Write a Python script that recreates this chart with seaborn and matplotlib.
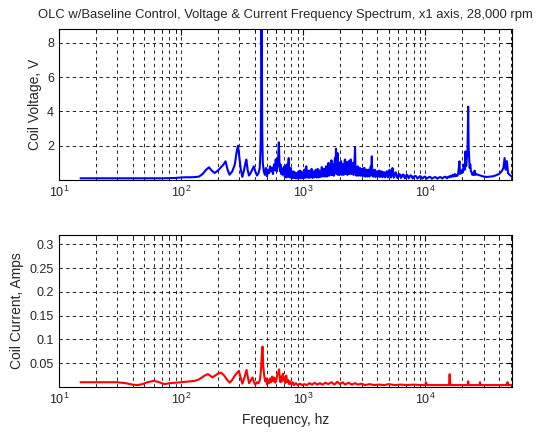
import matplotlib
matplotlib.use("Agg")
import matplotlib.pyplot as plt
import seaborn as sns
import pandas as pd
from matplotlib.ticker import LogLocator, FixedLocator

# coil voltage spectrum (three frequency ranges)
freq_v_low = [15, 20, 30, 40, 50, 60, 70, 80, 90, 100, 110, 120, 130, 140, 150, 160, 169, 178, 188,
              200, 212, 222, 231, 240, 249, 262, 275, 284, 292, 300, 308, 317, 328, 336, 342, 350,
              359, 370, 382, 393, 405, 418, 430, 440, 448, 452, 455, 458, 461, 466, 475, 485, 495,
              505, 515, 525, 535, 545, 555, 565, 575, 585, 595, 605, 615, 625, 631, 638, 645, 652,
              660, 668, 676, 684, 692]
volt_low = [0.10, 0.10, 0.10, 0.10, 0.10, 0.10, 0.10, 0.11, 0.12, 0.15, 0.16, 0.16, 0.17, 0.20, 0.35,
            0.60, 0.74, 0.55, 0.41, 0.55, 0.75, 0.90, 1.09, 0.60, 0.31, 0.50, 0.90, 1.60, 2.00, 1.30,
            0.60, 0.18, 0.60, 1.00, 1.19, 0.60, 0.26, 0.40, 0.60, 0.80, 0.50, 0.26, 0.40, 0.70, 2.00,
            4.70, 9.50, 6.80, 2.90, 1.00, 0.50, 0.30, 0.70, 0.22, 0.60, 0.40, 0.80, 0.50, 0.70, 0.35,
            0.90, 0.60, 1.20, 0.50, 0.80, 1.50, 2.20, 1.00, 0.50, 0.90, 0.35, 0.60, 0.30, 0.70, 0.45]

freq_v_mid = [700, 705, 710, 715, 720, 725, 730, 735, 740, 745,
              750, 755, 760, 765, 770, 775, 780, 785, 790, 795,
              800, 808, 815, 822, 830, 838, 845, 852, 860, 868,
              875, 882, 890, 898, 905, 912, 920, 928, 935, 942,
              950, 958, 965, 972, 980, 990, 1000, 1010, 1020, 1030,
              1040, 1050, 1060, 1070, 1080, 1090, 1100, 1110, 1120, 1130,
              1140, 1150, 1160, 1170, 1180, 1190, 1200, 1212, 1225, 1237,
              1250, 1262, 1275, 1287, 1300, 1312, 1325, 1337, 1350, 1362,
              1375, 1387, 1400, 1415, 1430, 1445, 1460, 1475, 1490, 1505,
              1520, 1535, 1550, 1565, 1580, 1595, 1610, 1625, 1640, 1655,
              1670, 1685, 1700, 1715, 1730, 1745, 1760, 1775, 1790, 1805,
              1820, 1836, 1853, 1866, 1880, 1895, 1910, 1925, 1940, 1955,
              1970, 1985, 2000, 2020, 2040, 2060, 2080, 2100, 2120, 2140,
              2160, 2180, 2200, 2220, 2240, 2260, 2280, 2300, 2320, 2340,
              2360, 2380, 2400, 2425, 2450, 2475, 2500, 2525, 2550, 2575,
              2600, 2630, 2655, 2680, 2700, 2725, 2750, 2775, 2800, 2830,
              2860, 2890, 2920, 2950, 2980, 3010, 3040, 3070, 3100, 3135,
              3170, 3205, 3240, 3275, 3310, 3345, 3380, 3415, 3450, 3485,
              3520, 3550, 3580, 3610, 3640, 3670, 3700, 3740, 3780, 3820,
              3860, 3900, 3940, 3980, 4020, 4060, 4100, 4150, 4200, 4250,
              4300, 4350, 4400, 4450, 4500, 4560, 4620, 4690, 4750, 4810,
              4880, 4940, 5000, 5080, 5150, 5220, 5300, 5370, 5450, 5520,
              5600, 5700, 5800, 5900, 6000, 6100, 6200, 6300, 6400, 6520,
              6650, 6780, 6900, 7020, 7150, 7280, 7400, 7550, 7700, 7850,
              8000, 8200, 8400, 8600, 8800, 9000, 9200, 9400, 9600, 9800,
              10000, 10250, 10500, 10750, 11000, 11300, 11600, 11900, 12200, 12500,
              12800, 13100, 13400, 13700, 14000, 14350, 14700, 15000, 15400, 15700]
volt_mid = [0.8, 0.2, 0.3, 0.7, 0.6, 0.15, 0.9, 0.3, 0.4, 0.2,
            0.55, 0.8, 1.28, 0.2, 0.5, 0.15, 0.3, 0.6, 0.7, 0.15,
            0.4, 0.1, 0.25, 0.5, 0.5, 0.12, 0.15, 0.45, 0.4, 0.1,
            0.2, 0.4, 0.35, 0.1, 0.15, 0.5, 0.45, 0.12, 0.25, 0.55,
            0.5, 0.1, 0.2, 0.45, 0.4, 0.12, 0.3, 0.55, 0.6, 0.12,
            0.25, 0.7, 0.8, 0.15, 0.35, 0.55, 0.5, 0.12, 0.2, 0.5,
            0.55, 0.15, 0.3, 0.65, 0.6, 0.12, 0.25, 0.5, 0.45, 0.15,
            0.3, 0.6, 0.55, 0.15, 0.35, 0.65, 0.6, 0.15, 0.3, 0.55,
            0.5, 0.18, 0.35, 0.75, 0.7, 0.2, 0.4, 0.65, 0.6, 0.2,
            0.3, 0.8, 0.75, 0.2, 0.45, 0.95, 1.0, 0.25, 0.5, 0.9,
            0.8, 0.3, 1.15, 0.3, 0.45, 0.85, 0.9, 0.25, 0.5, 1.1,
            1.3, 0.4, 1.83, 0.35, 0.6, 1.2, 1.57, 0.3, 0.5, 0.95,
            1.0, 0.3, 0.6, 1.05, 1.1, 0.3, 0.55, 0.95, 0.9, 0.3,
            0.5, 1.15, 1.2, 0.35, 0.6, 1.05, 1.0, 0.3, 0.55, 1.0,
            1.1, 0.35, 0.7, 1.15, 1.2, 0.35, 0.6, 0.95, 1.0, 0.3,
            0.8, 1.2, 1.9, 0.3, 0.7, 0.25, 0.45, 0.75, 0.8, 0.25,
            0.5, 0.7, 0.7, 0.25, 0.4, 0.6, 0.65, 0.22, 0.45, 0.7,
            0.7, 0.2, 0.4, 0.6, 0.6, 0.2, 0.35, 0.6, 0.6, 0.2,
            0.4, 0.75, 0.8, 0.3, 1.38, 0.25, 0.6, 0.2, 0.35, 0.55,
            0.6, 0.18, 0.3, 0.5, 0.5, 0.18, 0.3, 0.5, 0.55, 0.17,
            0.3, 0.5, 0.5, 0.16, 0.28, 0.45, 0.45, 0.15, 0.3, 0.5,
            0.5, 0.15, 0.25, 0.6, 0.42, 0.15, 0.25, 0.7, 0.4, 0.14,
            0.22, 0.45, 0.35, 0.12, 0.2, 0.35, 0.32, 0.12, 0.18, 0.32,
            0.3, 0.1, 0.17, 0.3, 0.28, 0.1, 0.16, 0.27, 0.25, 0.09,
            0.15, 0.24, 0.22, 0.09, 0.14, 0.22, 0.2, 0.08, 0.13, 0.2,
            0.18, 0.08, 0.13, 0.18, 0.17, 0.08, 0.12, 0.17, 0.16, 0.08,
            0.12, 0.17, 0.16, 0.09, 0.14, 0.19, 0.18, 0.1, 0.2, 0.15]

freq_v_high = [16000, 16350, 16700, 17050, 17400, 17700, 18000, 18300, 18600, 19000,
               19200, 19400, 19700, 20000, 20300, 20600, 20950, 21300, 21550, 21800,
               22100, 22400, 22600, 22800, 23050, 23300, 23600, 23900, 24250, 24600,
               24950, 25300, 25650, 26000, 27000, 28500, 30000, 32000, 34000, 36000,
               38000, 40000, 42000, 43500, 44500, 45500, 46500, 47500, 49000, 51000]
volt_high = [0.25, 0.18, 0.3, 0.2, 0.35, 0.22, 0.3, 0.25, 0.45, 1.09,
             0.35, 0.5, 0.4, 0.6, 0.45, 0.9, 0.6, 1.67, 0.8, 1.2,
             1.6, 4.28, 1.9, 1.3, 0.7, 0.9, 0.5, 0.45, 0.3, 0.4,
             0.3, 0.55, 0.3, 0.35, 0.3, 0.25, 0.2, 0.18, 0.2, 0.22,
             0.28, 0.35, 0.5, 0.7, 1.28, 0.6, 1.1, 0.4, 0.3, 0.2]

# coil current spectrum
freq_i = [15, 20, 25, 30, 35, 40, 44, 48, 53, 60, 66, 73, 80, 90, 100, 110, 120, 130, 140, 150,
          158, 166, 173, 180, 190, 200, 213, 225, 238, 250, 262, 275, 287, 297, 305, 317, 330,
          343, 352, 360, 372, 384, 395, 405, 418, 430, 442, 452, 458, 464, 470, 478, 487, 496,
          505, 515, 525, 535, 545, 555, 565, 578, 590, 603, 615, 625, 634, 642, 650, 660, 670,
          680, 690, 700, 712, 725, 738, 750, 765, 780, 800, 820, 840, 870, 900, 940, 980, 1020,
          1070, 1120, 1180, 1240, 1300, 1370, 1440, 1520, 1600, 1700, 1800, 1900, 2000, 2100,
          2200, 2350, 2500, 2650, 2800, 3000, 3200, 3500, 3800, 4200, 4600, 5000, 5600, 6300,
          7000, 8000, 9000, 10000, 10100, 10300, 12000, 14000, 15600, 15800, 16000, 19000,
          22200, 22400, 22600, 26000, 27800, 28000, 28200, 35000, 42000, 46800, 47000, 47200,
          51000]
amps = [0.010, 0.010, 0.010, 0.010, 0.008, 0.005, 0.004, 0.006, 0.010, 0.013, 0.010, 0.006,
        0.008, 0.009, 0.010, 0.011, 0.012, 0.013, 0.016, 0.021, 0.025, 0.027, 0.024, 0.020,
        0.024, 0.028, 0.030, 0.024, 0.015, 0.009, 0.015, 0.024, 0.030, 0.034, 0.022, 0.007,
        0.020, 0.036, 0.020, 0.008, 0.014, 0.020, 0.010, 0.005, 0.010, 0.008, 0.015, 0.040,
        0.070, 0.085, 0.045, 0.025, 0.012, 0.018, 0.005, 0.014, 0.008, 0.018, 0.010, 0.022,
        0.012, 0.020, 0.009, 0.016, 0.028, 0.030, 0.037, 0.018, 0.010, 0.022, 0.012, 0.028,
        0.014, 0.020, 0.008, 0.024, 0.010, 0.015, 0.006, 0.012, 0.005, 0.010, 0.004, 0.008,
        0.004, 0.007, 0.004, 0.006, 0.004, 0.008, 0.005, 0.009, 0.005, 0.008, 0.005, 0.009,
        0.006, 0.010, 0.005, 0.011, 0.006, 0.010, 0.005, 0.009, 0.005, 0.008, 0.005, 0.007,
        0.004, 0.006, 0.004, 0.005, 0.004, 0.006, 0.004, 0.005, 0.004, 0.005, 0.004, 0.004,
        0.010, 0.004, 0.004, 0.004, 0.004, 0.027, 0.004, 0.004, 0.004, 0.012, 0.004, 0.004,
        0.004, 0.010, 0.004, 0.004, 0.004, 0.004, 0.010, 0.004, 0.004]

title = "OLC w/Baseline Control, Voltage & Current Frequency Spectrum, x1 axis, 28,000 rpm"

df_v = pd.DataFrame({"freq": freq_v_low + freq_v_mid + freq_v_high,
                     "value": volt_low + volt_mid + volt_high})
df_i = pd.DataFrame({"freq": freq_i, "value": amps})

sns.set_style("white")
plt.rcParams["font.family"] = ["Liberation Sans", "DejaVu Sans"]
plt.rcParams["mathtext.fontset"] = "custom"
plt.rcParams["mathtext.rm"] = "Liberation Sans"
plt.rcParams["font.size"] = 9

fig = plt.figure(figsize=(5.42, 4.32), dpi=100)
ax1 = fig.add_axes([0.1089, 0.5833, 0.8358, 0.3495])
ax2 = fig.add_axes([0.1089, 0.1042, 0.8358, 0.3519])


def style_axis(ax, yticks, ylim):
    ax.set_xscale("log")
    ax.set_xlim(10, 51200)
    ax.set_ylim(*ylim)
    ax.xaxis.set_major_locator(LogLocator(base=10))
    ax.xaxis.set_minor_locator(LogLocator(base=10, subs=range(2, 10)))
    ax.yaxis.set_major_locator(FixedLocator(yticks))
    ax.grid(True, which="major", axis="both", color="black", linestyle=(0, (4, 4)), linewidth=0.6)
    ax.grid(True, which="minor", axis="x", color="black", linestyle=(0, (4, 4)), linewidth=0.6)
    ax.tick_params(which="both", direction="in", top=True, right=True, labelsize=9,
                   color="black")
    ax.tick_params(which="major", length=4)
    ax.tick_params(which="minor", length=2)
    for s in ax.spines.values():
        s.set_color("black")
        s.set_linewidth(0.8)
    ax.set_axisbelow(True)


sns.lineplot(data=df_v, x="freq", y="value", ax=ax1, color="#0000ff", linewidth=1.5,
             estimator=None, sort=False)
style_axis(ax1, [2, 4, 6, 8], (0, 8.8))
ax1.set_yticklabels(["2", "4", "6", "8"])
ax1.set_xlabel("")
ax1.set_ylabel("Coil Voltage, V", fontsize=10)
ax1.set_title(title, fontsize=9.4, pad=8)

sns.lineplot(data=df_i, x="freq", y="value", ax=ax2, color="#ff0000", linewidth=1.5,
             estimator=None, sort=False)
style_axis(ax2, [0.05, 0.1, 0.15, 0.2, 0.25, 0.3], (0, 0.32))
ax2.set_yticklabels(["0.05", "0.1", "0.15", "0.2", "0.25", "0.3"])
ax2.set_xlabel("Frequency, hz", fontsize=10)
ax2.set_ylabel("Coil Current, Amps", fontsize=10)

fig.savefig("out.png", dpi=100, facecolor="white")
